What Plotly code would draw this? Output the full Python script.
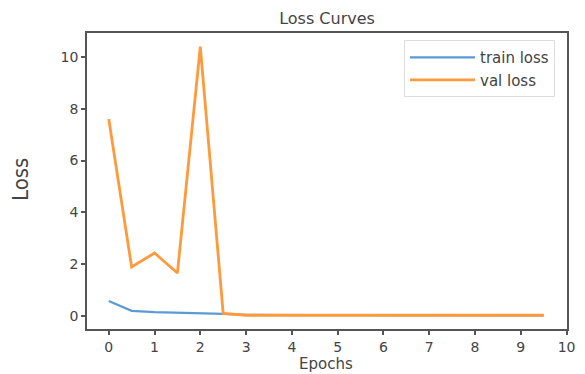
import plotly.graph_objects as go

epochs = [0, 0.5, 1, 1.5, 2, 2.5, 3, 3.5, 4, 4.5, 5, 5.5, 6, 6.5, 7, 7.5, 8, 8.5, 9, 9.5]
train_loss = [0.58, 0.2, 0.15, 0.13, 0.12, 0.08, 0.05, 0.04, 0.04, 0.03, 0.03, 0.03, 0.03, 0.03, 0.02, 0.02, 0.02, 0.02, 0.02, 0.02]
val_loss = [7.6, 1.89, 2.43, 1.66, 10.39, 0.1, 0.03, 0.03, 0.03, 0.03, 0.03, 0.03, 0.03, 0.03, 0.03, 0.03, 0.03, 0.03, 0.03, 0.03]
x_ticks = list(range(0, 11))
y_ticks = [0, 2, 4, 6, 8, 10]

# page body has an 8px margin: figure placed at (8, 8) in the window
W, H = 577, 366
L, T, R, B = 79, 25, 18, 45
pw, ph = W - L - R, H - T - B

font_color = "#444444"
fig = go.Figure()
fig.add_trace(go.Scatter(x=epochs, y=train_loss, mode="lines", name="train loss",
                         line=dict(color="#5b9bd5", width=2.2)))
fig.add_trace(go.Scatter(x=epochs, y=val_loss, mode="lines", name="val loss",
                         line=dict(color="#ff9a3c", width=2.8)))

axis_common = dict(showline=True, mirror=True, linecolor="#555555", linewidth=1.5,
                   ticks="outside", ticklen=4, tickwidth=1.5, tickcolor="#555555",
                   showgrid=False, zeroline=False, automargin=False,
                   tickfont=dict(family="DejaVu Sans", size=14, color=font_color))

fig.update_layout(
    width=W, height=H,
    margin=dict(l=L, r=R, t=T, b=B),
    paper_bgcolor="white", plot_bgcolor="white",
    title=dict(text="Loss Curves", x=0.5, xanchor="center", xref="paper",
               y=1 - 10 / H, yanchor="middle", automargin=False,
               font=dict(family="DejaVu Sans", size=16, color=font_color)),
    xaxis=dict(range=[-0.475, 10.01], tickvals=x_ticks, ticktext=[str(t) for t in x_ticks],
               **axis_common),
    yaxis=dict(range=[-0.5, 10.92], tickvals=y_ticks, ticktext=[str(t) for t in y_ticks],
               **axis_common),
    legend=dict(x=0.975, y=0.976, xanchor="right", yanchor="top",
                bgcolor="white", bordercolor="#dddddd", borderwidth=1,
                font=dict(family="DejaVu Sans", size=15, color=font_color),
                itemwidth=65, tracegroupgap=0),
    showlegend=True,
    annotations=[
        dict(text="Epochs", xref="paper", yref="paper", x=0.5 + (318 - L - pw / 2) / pw,
             y=-(356 - (T + ph)) / ph, xanchor="center", yanchor="middle", showarrow=False,
             font=dict(family="DejaVu Sans", size=15, color=font_color)),
        dict(text="Loss", xref="paper", yref="paper", x=-(L - 12) / pw,
             y=1 - (172 - T) / ph, xanchor="center", yanchor="middle", showarrow=False,
             textangle=-90,
             font=dict(family="DejaVu Sans Condensed, DejaVu Sans", size=22, color=font_color)),
    ],
)

fig.write_html("out.html")
